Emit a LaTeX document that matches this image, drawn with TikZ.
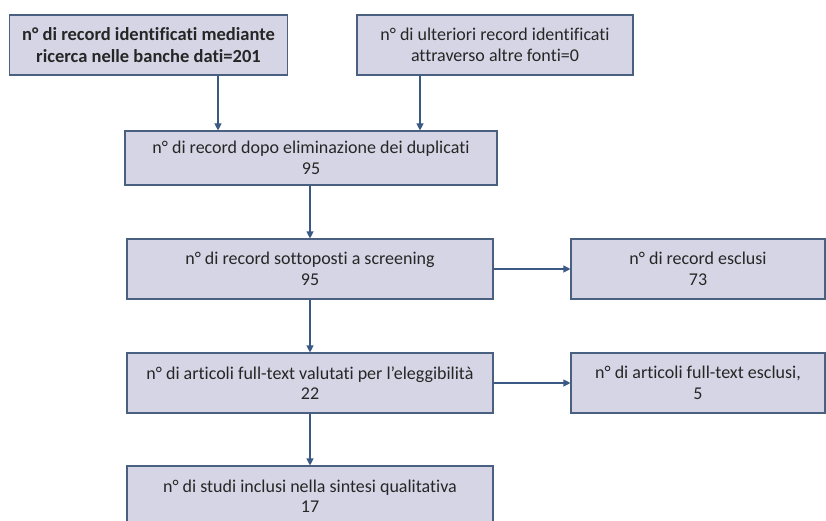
\documentclass[tikz,border=0pt]{standalone}
\usepackage{fontspec}
\setmainfont[RawFeature={-liga}]{Carlito}
\usetikzlibrary{arrows.meta}
\definecolor{boxfill}{HTML}{D5D5E5}
\definecolor{boxline}{HTML}{4A6080}
\definecolor{arrcol}{HTML}{3A5A85}
\begin{document}
\begin{tikzpicture}[x=1pt,y=-1pt,
  box/.style={draw=boxline,line width=1.1pt,fill=boxfill,rectangle,inner sep=0pt,
    align=center,font=\fontsize{18}{20.5}\selectfont,text=black!85},
  arr/.style={draw=arrcol,line width=1.1pt,-{Triangle[length=7pt,width=7pt]}}]
\useasboundingbox (0,0) rectangle (826,521);
\node[box,minimum width=278pt,minimum height=60pt,font=\bfseries\fontsize{18.5}{22}\selectfont] (b1) at (148.5,45)
  {n° di record identificati mediante\\ricerca nelle banche dati=201};
\node[box,minimum width=276pt,minimum height=60pt] (b2) at (495,45)
  {n° di ulteriori record identificati\\attraverso altre fonti=0};
\node[box,minimum width=372pt,minimum height=54pt] (b3) at (311,158)
  {n° di record dopo eliminazione dei duplicati\\95};
\node[box,minimum width=366pt,minimum height=60pt] (b4) at (310,269)
  {n° di record sottoposti a screening\\95};
\node[box,minimum width=254pt,minimum height=60pt] (b5) at (698,269)
  {n° di record esclusi\\73};
\node[box,minimum width=366pt,minimum height=60pt] (b6) at (310,383)
  {n° di articoli full-text valutati per l’eleggibilità\\22};
\node[box,minimum width=254pt,minimum height=60pt] (b7) at (698,383)
  {n° di articoli full-text esclusi,\\5};
\node[box,minimum width=366pt,minimum height=60pt] (b8) at (310,496)
  {n° di studi inclusi nella sintesi qualitativa\\17};
\draw[arr] ([xshift=69.5pt]b1.south) -- ([xshift=69.5pt]b1.south |- b3.north);
\draw[arr] ([xshift=-75pt]b2.south) -- ([xshift=-75pt]b2.south |- b3.north);
\draw[arr] (b3.south -| b4.north) -- (b4.north);
\draw[arr] (b4.east) -- (b5.west);
\draw[arr] (b4.south) -- (b6.north);
\draw[arr] (b6.east) -- (b7.west);
\draw[arr] (b6.south) -- (b8.north);
\end{tikzpicture}
\end{document}
